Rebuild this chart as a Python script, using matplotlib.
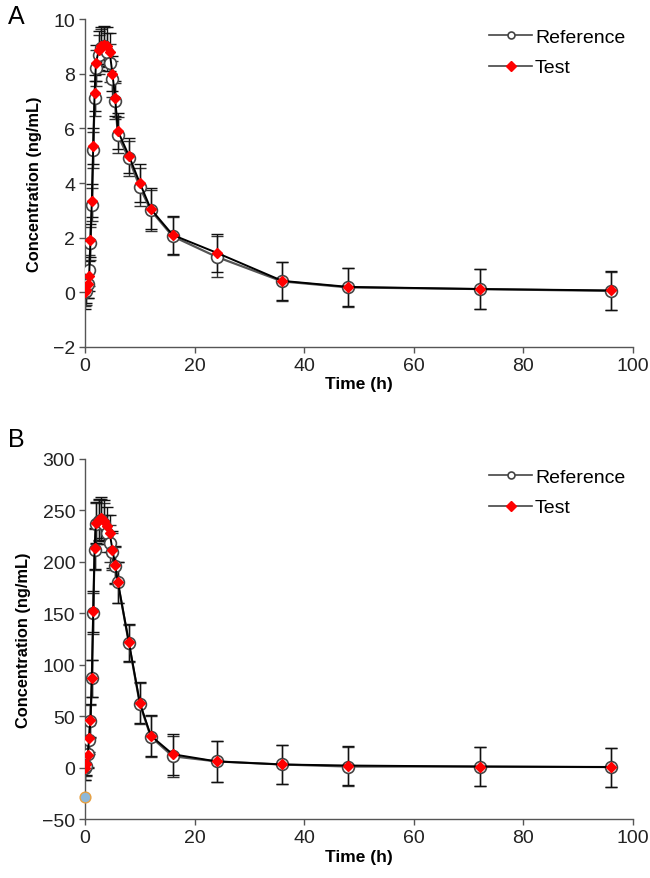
import matplotlib
matplotlib.use("Agg")
import matplotlib.pyplot as plt
import numpy as np

plt.rcParams['font.family'] = ['Liberation Sans', 'DejaVu Sans']

# ---- data ----
time_h = [0, 0.25, 0.5, 0.75, 1, 1.25, 1.5, 1.75, 2, 2.5, 3, 3.5, 4, 4.5, 5, 5.5, 6,
          8, 10, 12, 16, 24, 36, 48, 72, 96]

a_ref = [0, 0.05, 0.3, 0.8, 1.8, 3.2, 5.2, 7.1, 8.2, 8.7, 8.95, 9.0, 8.8, 8.4, 7.8, 7.0, 5.75,
         4.9, 3.85, 3.0, 2.05, 1.3, 0.4, 0.18, 0.12, 0.05]
a_ref_sd = [0.5, 0.5, 0.5, 0.55, 0.6, 0.6, 0.65, 0.65, 0.65, 0.7, 0.7, 0.7, 0.7, 0.7, 0.65, 0.65, 0.65,
            0.65, 0.7, 0.75, 0.7, 0.75, 0.7, 0.7, 0.72, 0.7]
a_test = [0, 0.1, 0.3, 0.6, 1.9, 3.35, 5.35, 7.3, 8.4, 8.85, 9.0, 9.05, 9.0, 8.8, 8.0, 7.1, 5.9,
          5.0, 4.0, 3.05, 2.1, 1.45, 0.42, 0.2, 0.12, 0.07]
a_test_sd = [0.6, 0.5, 0.5, 0.55, 0.6, 0.6, 0.65, 0.65, 0.65, 0.7, 0.7, 0.7, 0.7, 0.7, 0.65, 0.65, 0.65,
             0.65, 0.7, 0.75, 0.7, 0.7, 0.7, 0.7, 0.72, 0.7]

b_ref = [0, 2, 13, 27, 45, 87, 150, 212, 237, 240, 241, 237, 228, 218, 210, 196, 180,
         121, 62, 30, 11, 6, 3, 1, 1, 0.5]
b_ref_sd = [12, 10, 12, 14, 16, 18, 20, 20, 20, 20, 20, 20, 18, 18, 18, 18, 20,
            18, 20, 20, 20, 20, 19, 19, 19, 19]
b_test = [0, 3, 12, 29, 46, 87, 152, 213, 238, 241, 243, 240, 235, 228, 212, 197, 180,
          122, 63, 31, 13, 6, 3, 2, 1, 0.5]
b_test_sd = [12, 10, 12, 14, 16, 18, 20, 20, 20, 20, 20, 20, 18, 18, 18, 18, 20,
             18, 20, 20, 20, 20, 19, 19, 19, 19]

b_artifact_t = [0]
b_artifact_v = [-29]

x_ticks = [0, 20, 40, 60, 80, 100]
a_yticks = [-2, 0, 2, 4, 6, 8, 10]
b_yticks = [-50, 0, 50, 100, 150, 200, 250, 300]

fig = plt.figure(figsize=(6.5, 8.79), dpi=100)
axA = fig.add_axes([0.1308, 0.6041, 0.843, 0.3731])
axB = fig.add_axes([0.1308, 0.0671, 0.843, 0.4096])


def draw(ax, ref, ref_sd, test, test_sd, yticks):
    ax.errorbar(time_h, ref, yerr=ref_sd, fmt='none', ecolor='#333333', elinewidth=1.0,
                capsize=4, capthick=1.0, zorder=2)
    ax.errorbar(time_h, test, yerr=test_sd, fmt='none', ecolor='#111111', elinewidth=1.0,
                capsize=4, capthick=1.0, zorder=2)
    ax.plot(time_h, ref, color='#555555', lw=1.6, marker='o', ms=8.5, mfc='white',
            mec='#444444', mew=1.2, label='Reference', zorder=3)
    ax.plot(time_h, test, color='#000000', lw=1.4, marker='D', ms=5, mfc='red',
            mec='red', label='Test', zorder=4)
    ax.set_xlim(0, 100)
    ax.set_ylim(yticks[0], yticks[-1])
    ax.set_xticks(x_ticks)
    ax.set_yticks(yticks)
    for s in ['top', 'right']:
        ax.spines[s].set_visible(False)
    for s in ['left', 'bottom']:
        ax.spines[s].set_color('#555555')
        ax.spines[s].set_linewidth(1.0)
    ax.tick_params(axis='both', labelsize=14, colors='#222222', length=4, width=1,
                   color='#555555', pad=3)
    ax.set_xlabel('Time (h)', fontsize=12.5, fontweight='bold', labelpad=2)
    ax.set_ylabel('Concentration (ng/mL)', fontsize=11.8, fontweight='bold', labelpad=8)
    leg = ax.legend(loc='upper right', frameon=False, fontsize=14, handlelength=2.2,
                    handletextpad=0.15, borderaxespad=0.0, labelspacing=0.65,
                    bbox_to_anchor=(1.0, 0.995))
    for h in leg.legend_handles:
        h.set_markersize(5)
        h.set_linewidth(1.2)
        h.set_color('#444444')


draw(axA, a_ref, a_ref_sd, a_test, a_test_sd, a_yticks)
draw(axB, b_ref, b_ref_sd, b_test, b_test_sd, b_yticks)
axB.scatter(b_artifact_t, b_artifact_v, s=60, facecolor='#8fb8d8', edgecolor='#e8a040',
            lw=1, zorder=5, clip_on=False)

fig.text(0.012, 0.981, 'A', fontsize=18, va='center', ha='left')
fig.text(0.012, 0.499, 'B', fontsize=18, va='center', ha='left')

fig.savefig('out.png', dpi=100)
